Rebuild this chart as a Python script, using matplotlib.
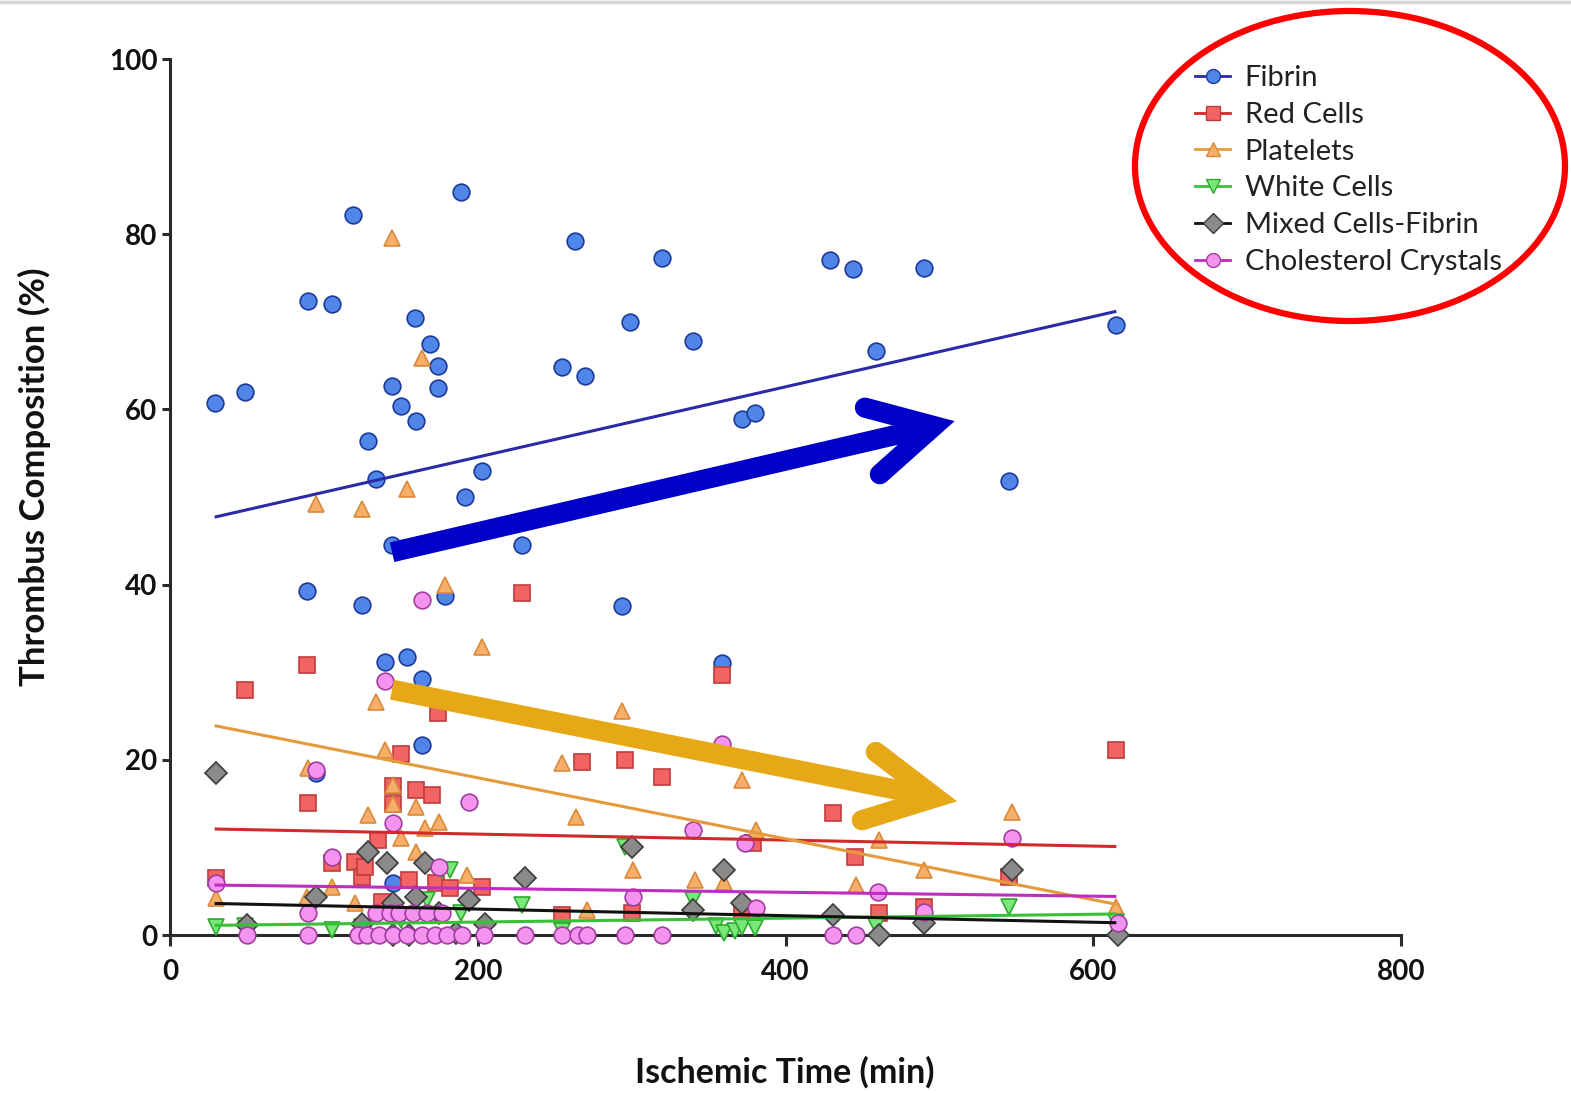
import matplotlib
matplotlib.use("Agg")
import matplotlib.pyplot as plt
from matplotlib.lines import Line2D
from matplotlib.patches import Ellipse

plt.rcParams['font.family'] = ['Lato', 'DejaVu Sans']

# ---- data ----
fibrin_x = [29, 49, 89, 90, 95, 105, 119, 125, 129, 134, 140, 144, 144, 145, 150, 154, 159, 160,
            164, 164, 169, 174, 174, 179, 189, 192, 203, 229, 255, 263, 270, 294, 299, 320, 340,
            359, 372, 380, 429, 444, 459, 490, 545, 615]
fibrin_y = [60.7, 62, 39.3, 72.4, 18.5, 72, 82.2, 37.7, 56.4, 52, 31.2, 62.7, 44.5, 5.9, 60.4, 31.7,
            70.4, 58.7, 29.2, 21.7, 67.5, 65, 62.4, 38.7, 84.8, 50, 53, 44.5, 64.8, 79.2, 63.8, 37.6,
            70, 77.3, 67.8, 31, 58.9, 59.6, 77, 76, 66.7, 76.1, 51.8, 69.6]

red_x = [30, 49, 89, 90, 105, 120, 125, 127, 135, 138, 145, 145, 150, 155, 160, 170, 173, 174,
         182, 203, 229, 255, 268, 296, 300, 320, 359, 372, 379, 431, 445, 461, 490, 545, 615]
red_y = [6.5, 28, 30.8, 15.1, 8.2, 8.3, 6.6, 7.8, 10.8, 3.8, 15, 17, 20.7, 6.3, 16.6, 16, 5.9, 25.3,
         5.4, 5.5, 39, 2.3, 19.8, 20, 2.5, 18, 29.7, 2.6, 10.5, 13.9, 8.9, 2.5, 3.2, 6.6, 21.1]

plt_x = [30, 89, 90, 95, 105, 120, 125, 129, 134, 140, 144, 145, 145, 150, 154, 160, 160, 164,
         166, 175, 179, 193, 203, 255, 264, 271, 294, 301, 341, 360, 372, 381, 446, 461, 490, 547, 615]
plt_y = [4.2, 4.3, 19.1, 49.2, 5.5, 3.7, 48.6, 13.7, 26.6, 21.1, 79.6, 17.1, 15, 11.1, 50.9, 14.6,
         9.5, 65.9, 12.2, 12.9, 40, 6.8, 32.9, 19.6, 13.5, 2.9, 25.6, 7.4, 6.3, 6, 17.7, 12, 5.7,
         10.8, 7.4, 14, 3.2]

white_x = [30, 49, 105, 125, 150, 167, 177, 182, 189, 229, 255, 296, 340, 355, 360, 367, 372, 380,
           459, 545, 615]
white_y = [0.9, 1.0, 0.6, 0.9, 1.7, 4.0, 7.4, 7.4, 2.5, 3.4, 0.5, 10, 4, 1.0, 0.2, 0.5, 0.9, 0.8,
           1.0, 3.2, 1.5]

mixed_x = [30, 50, 95, 125, 129, 141, 145, 145, 155, 160, 166, 175, 186, 194, 205, 231, 300, 340,
           360, 372, 431, 461, 490, 547, 616]
mixed_y = [18.5, 1.1, 4.3, 1.3, 9.5, 8.2, 3.6, 0, 0, 4.3, 8.2, 2.5, 0.2, 4, 1.3, 6.5, 10, 2.9,
           7.4, 3.6, 2.3, 0, 1.4, 7.4, 0]

chol_x = [30, 95, 105, 140, 145, 164, 175, 194, 301, 340, 359, 374, 381, 460, 490, 547, 616,
          90, 134, 143, 149, 158, 167, 177,
          50, 90, 122, 128, 136, 145, 154, 164, 172, 180, 190, 204, 231, 255, 265, 271, 296, 320,
          431, 446]
chol_y = [5.9, 18.8, 8.9, 29, 12.8, 38.2, 7.8, 15.2, 4.3, 12, 21.8, 10.5, 3.1, 4.9, 2.6, 11.1, 1.4,
          2.5, 2.5, 2.5, 2.5, 2.5, 2.5, 2.5,
          0, 0, 0, 0, 0, 0, 0, 0, 0, 0, 0, 0, 0, 0, 0, 0, 0, 0, 0, 0]

# regression lines, value at first and last ischemic time
fit_x = [29, 615]
fibrin_fit = [47.7, 71.2]
red_fit = [12.1, 10.1]
plt_fit = [23.9, 3.5]
white_fit = [1.1, 2.4]
mixed_fit = [3.6, 1.4]
chol_fit = [5.7, 4.4]

labels = ["Fibrin", "Red Cells", "Platelets", "White Cells", "Mixed Cells-Fibrin",
          "Cholesterol Crystals"]

series = [
    (fibrin_x, fibrin_y, fibrin_fit, "o", "#4f86e8", "#1d3a9a", "#2a2aa8"),
    (red_x, red_y, red_fit, "s", "#f26464", "#c03c3c", "#d02a2a"),
    (plt_x, plt_y, plt_fit, "^", "#f6ae68", "#d98a3c", "#e49a3a"),
    (white_x, white_y, white_fit, "v", "#78e878", "#2fa82f", "#38c038"),
    (mixed_x, mixed_y, mixed_fit, "D", "#8a8a8a", "#3c3c3c", "#111111"),
    (chol_x, chol_y, chol_fit, "o", "#f494f0", "#a23ca0", "#c02cc0"),
]

fig = plt.figure(figsize=(15.71, 10.93), dpi=100)
ax = fig.add_axes([170 / 1571, 1 - 935 / 1093, 1231 / 1571, 876 / 1093])

handles = []
for i, (xs, ys, fit, mk, fc, ec, lc) in enumerate(series):
    ms = 11 if mk in ("D",) else 12
    ax.plot(xs, ys, linestyle="none", marker=mk, markersize=ms, markerfacecolor=fc,
            markeredgecolor=ec, markeredgewidth=1.2, zorder=3 + i, clip_on=False)
    ax.plot(fit_x, fit, color=lc, linewidth=2.2, zorder=10, solid_capstyle="butt")
    handles.append(Line2D([], [], color=lc, linewidth=2, marker=mk, markersize=10,
                          markerfacecolor=fc, markeredgecolor=ec, markeredgewidth=1))

ax.set_xlim(0, 800)
ax.set_ylim(0, 100)
ax.set_xticks([0, 200, 400, 600, 800])
ax.set_yticks([0, 20, 40, 60, 80, 100])
for s in ("top", "right"):
    ax.spines[s].set_visible(False)
for s in ("left", "bottom"):
    ax.spines[s].set_linewidth(2.2)
    ax.spines[s].set_color("#2a2a2a")
ax.tick_params(axis="both", direction="out", width=2.2, color="#2a2a2a", labelsize=20,
               labelcolor="#111111")
ax.tick_params(axis="x", length=8, pad=9)
ax.tick_params(axis="y", length=6, pad=3)
for lab in ax.get_xticklabels() + ax.get_yticklabels():
    lab.set_fontweight("bold")

fig.text(785 / 1571, 1 - 1072 / 1093, "Ischemic Time (min)", ha="center", va="center",
         fontsize=24.5, fontweight="bold", color="#111111")
fig.text(34 / 1571, 1 - 477 / 1093, "Thrombus Composition (%)", ha="center", va="center",
         rotation=90, fontsize=25, fontweight="bold", color="#111111")

# trend arrows drawn on top
arrow_specs = [
    ((144.3, 43.7), (496.5, 58.1), (451.6, 60.2), (461.3, 52.6), "#0000c8"),
    ((144.3, 28.0), (497.5, 15.7), (458.7, 20.9), (449.6, 13.1), "#e6a817"),
]
for start, tip, arm1, arm2, col in arrow_specs:
    ax.plot([start[0], tip[0]], [start[1], tip[1]],
            color=col, linewidth=14.5, solid_capstyle="butt", zorder=20, clip_on=False)
    ax.plot([arm1[0], tip[0], arm2[0]], [arm1[1], tip[1], arm2[1]], color=col, linewidth=14.5,
            solid_capstyle="round", solid_joinstyle="miter", zorder=20, clip_on=False)

fig.legend(handles, labels, loc="upper left", bbox_to_anchor=(1195 / 1571, 1 - 65 / 1093),
           frameon=False, fontsize=21, handlelength=1.2, handletextpad=0.5, labelspacing=0.37,
           borderpad=0, borderaxespad=0, labelcolor="#222222")

fig.add_artist(Ellipse((1350 / 1571, 1 - 166 / 1093), 430 / 1571, 310 / 1093,
                       transform=fig.transFigure, fill=False, edgecolor="#ff0000", linewidth=4.5))
fig.add_artist(Line2D([0, 1], [1 - 1.5 / 1093, 1 - 1.5 / 1093], transform=fig.transFigure,
                      color="#d8d8d8", linewidth=2.5))

fig.savefig("out.png", dpi=100, facecolor="white")
